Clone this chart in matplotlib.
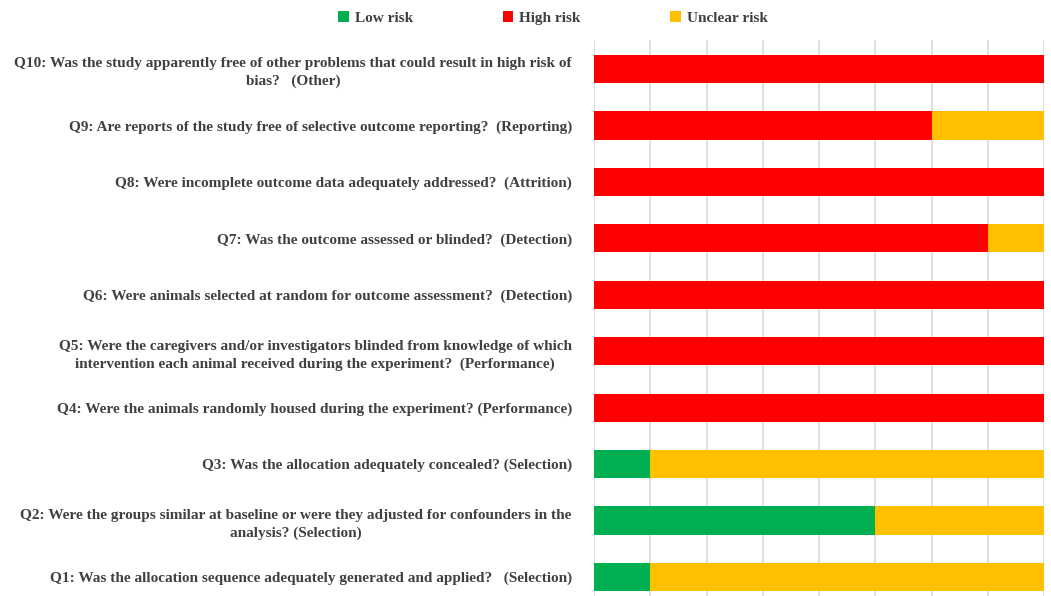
import matplotlib
matplotlib.use("Agg")
import matplotlib.pyplot as plt
import numpy as np

questions = [
    "Q1: Was the allocation sequence adequately generated and applied?   (Selection)",
    "Q2: Were the groups similar at baseline or were they adjusted for confounders in the\nanalysis? (Selection)",
    "Q3: Was the allocation adequately concealed? (Selection)",
    "Q4: Were the animals randomly housed during the experiment? (Performance)",
    "Q5: Were the caregivers and/or investigators blinded from knowledge of which\nintervention each animal received during the experiment?  (Performance)",
    "Q6: Were animals selected at random for outcome assessment?  (Detection)",
    "Q7: Was the outcome assessed or blinded?  (Detection)",
    "Q8: Were incomplete outcome data adequately addressed?  (Attrition)",
    "Q9: Are reports of the study free of selective outcome reporting?  (Reporting)",
    "Q10: Was the study apparently free of other problems that could result in high risk of\nbias?   (Other)",
]
low_risk = [12.5, 62.5, 12.5, 0, 0, 0, 0, 0, 0, 0]
high_risk = [0, 0, 0, 100, 100, 100, 87.5, 100, 75, 100]
unclear_risk = [87.5, 37.5, 87.5, 0, 0, 0, 12.5, 0, 25, 0]

series_names = ["Low risk", "High risk", "Unclear risk"]
colors = ["#00B050", "#FF0000", "#FFC000"]

plt.rcParams['font.family'] = ['Liberation Serif', 'DejaVu Serif']
W, H = 1051, 596
fig = plt.figure(figsize=(W / 100, H / 100), dpi=100)
ax = fig.add_axes([594 / W, 0, (1044 - 594) / W, (596 - 40) / H])

y = np.arange(len(questions))
left = np.zeros(len(questions))
for name, vals, c in zip(series_names, [low_risk, high_risk, unclear_risk], colors):
    vals = np.array(vals, dtype=float)
    ax.barh(y, vals, left=left, height=0.5, color=c, label=name, zorder=3)
    left += vals

ax.set_xlim(0, 100)
ax.set_ylim(-0.337, 9.514)
ax.set_xticks(np.arange(0, 100.1, 12.5))
ax.grid(axis='x', color='#d9d9d9', linewidth=1.2, zorder=0)
ax.tick_params(axis='x', length=0, labelbottom=False)
ax.set_yticks(y)
ax.set_yticklabels(questions, fontsize=11, fontweight='bold', color='#404040',
                   multialignment='center', linespacing=1.45)
ax.tick_params(axis='y', length=0, pad=16)
for s in ax.spines.values():
    s.set_visible(False)

fig.legend(loc='center', bbox_to_anchor=(553 / W, 1 - 18 / H), ncol=3, frameon=False,
           handlelength=0.7, handleheight=0.7, handletextpad=0.4, columnspacing=5.85,
           prop={'size': 11, 'weight': 'bold'}, labelcolor='#404040')

fig.savefig("out.png", dpi=100)
